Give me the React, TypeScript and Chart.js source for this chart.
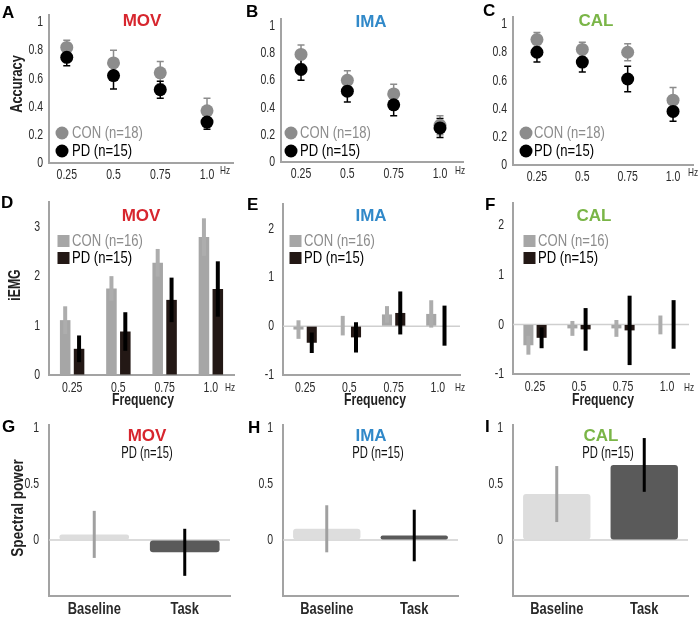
import React, { useEffect, useRef } from 'react';
import { Chart, registerables } from 'chart.js';

Chart.register(...registerables);

const SANS = "'Liberation Sans', Arial, 'DejaVu Sans', sans-serif";

// ---------- categories & ticks ----------
const freqValues = [0.25, 0.5, 0.75, 1.0];
const freqLabels = ['0.25', '0.5', '0.75', '1.0'];
const phaseLabels = ['Baseline', 'Task'];
const accuracyTicks = [0, 0.2, 0.4, 0.6, 0.8, 1];
const accuracyTickLabels = ['0', '0.2', '0.4', '0.6', '0.8', '1'];
const iemgTicksMov = [0, 1, 2, 3];
const iemgTickLabelsMov = ['0', '1', '2', '3'];
const iemgTicksOther = [-1, 0, 1, 2];
const iemgTickLabelsOther = ['-1', '0', '1', '2'];
const powerTicks = [0, 0.5, 1];
const powerTickLabels = ['0', '0.5', '1'];

// ---------- accuracy (A-C) ----------
const accMovCon = [0.82, 0.71, 0.64, 0.37];
const accMovConErr = [0.05, 0.09, 0.08, 0.09];
const accMovPd = [0.75, 0.62, 0.52, 0.29];
const accMovPdErr = [0.06, 0.095, 0.06, 0.05];
const accImaCon = [0.79, 0.6, 0.5, 0.27];
const accImaConErr = [0.07, 0.07, 0.07, 0.07];
const accImaPd = [0.68, 0.52, 0.42, 0.25];
const accImaPdErr = [0.08, 0.08, 0.08, 0.07];
const accCalCon = [0.89, 0.82, 0.8, 0.46];
const accCalConErr = [0.05, 0.05, 0.06, 0.09];
const accCalPd = [0.8, 0.73, 0.61, 0.38];
const accCalPdErr = [0.07, 0.07, 0.09, 0.07];

// ---------- iEMG (D-F) ----------
const emgMovCon = [1.11, 1.75, 2.27, 2.79];
const emgMovConErr = [0.28, 0.25, 0.28, 0.38];
const emgMovPd = [0.53, 0.88, 1.52, 1.74];
const emgMovPdErr = [0.27, 0.39, 0.45, 0.56];
const emgImaCon = [-0.07, 0.01, 0.24, 0.25];
const emgImaConErr = [0.19, 0.2, 0.17, 0.28];
const emgImaPd = [-0.34, -0.23, 0.27, 0.01];
const emgImaPdErr = [0.21, 0.31, 0.44, 0.41];
const emgCalCon = [-0.42, -0.08, -0.08, -0.01];
const emgCalConErr = [0.19, 0.15, 0.17, 0.19];
const emgCalPd = [-0.27, -0.1, -0.12, 0.0];
const emgCalPdErr = [0.21, 0.43, 0.7, 0.49];

// ---------- spectral power (G-I) ----------
const powMov = [0.05, -0.11];
const powMovErr = [0.21, 0.21];
const powIma = [0.1, 0.04];
const powImaErr = [0.21, 0.23];
const powCal = [0.41, 0.67];
const powCalErr = [0.25, 0.24];

// ---------- colours ----------
const RED = '#d7262e';
const BLUE = '#3189c9';
const GREEN = '#7ab547';
const CON_MARK = '#8c8c8c';
const PD_MARK = '#000000';
const CON_BAR = '#a6a6a6';
const CON_ERR = '#adadad';
const PD_BAR = '#231815';
const PD_ERR = '#000000';
const BASE_BAR = '#dddddd';
const BASE_ERR = '#a0a0a0';
const TASK_BAR = '#5a5a5a';
const TASK_ERR = '#000000';
const AXIS = '#a3a3a3';
const ZERO = '#cfcfcf';
const TICK = '#2a2a2a';

const YW = 40;
const XH = 20;

type Geo = { cx: number; cy: number; cw: number; ch: number; l: number; r: number; t: number; b: number };

function pad(g: Geo) {
  return { left: g.l - g.cx - YW, right: g.cx + g.cw - g.r, top: g.t - g.cy, bottom: g.cy + g.ch - g.b - XH };
}

function drawText(ctx: any, s: string, x: number, y: number, font: string, color: string, align: string, baseline: string, rot: number, sx: number) {
  ctx.save();
  ctx.translate(x, y);
  if (rot) ctx.rotate(rot);
  if (sx !== 1) ctx.scale(sx, 1);
  ctx.font = font;
  ctx.fillStyle = color;
  ctx.textAlign = align;
  ctx.textBaseline = baseline;
  ctx.fillText(s, 0, 0);
  ctx.restore();
}

function annotPlugin(items: any[], ox: number, oy: number) {
  return {
    id: 'annot',
    afterDraw(chart: any) {
      const ctx = chart.ctx;
      for (const it of items) {
        if (it.k === 't') {
          drawText(ctx, it.s, it.x - ox, it.y - oy, it.f, it.c, it.a || 'center', it.b || 'middle', it.rot || 0, it.sx || 1);
        } else if (it.k === 'c') {
          ctx.save();
          ctx.fillStyle = it.c;
          ctx.beginPath();
          ctx.arc(it.x - ox, it.y - oy, it.r, 0, Math.PI * 2);
          ctx.fill();
          ctx.restore();
        } else {
          ctx.save();
          ctx.fillStyle = it.c;
          ctx.fillRect(it.x - ox - it.w / 2, it.y - oy - it.h / 2, it.w, it.h);
          ctx.restore();
        }
      }
    },
  };
}

// tick labels drawn at the library's own tick positions (condensed lettering)
function tickPlugin(spec: any) {
  return {
    id: 'ticklabels',
    afterDraw(chart: any) {
      const ctx = chart.ctx;
      const xs = chart.scales.x;
      const ys = chart.scales.y;
      xs.ticks.forEach((_t: any, i: number) => {
        drawText(ctx, spec.xLabels[i], xs.getPixelForTick(i), chart.chartArea.bottom + spec.xOff, spec.xFont, TICK, 'center', 'middle', 0, spec.xSx);
      });
      ys.ticks.forEach((t: any, i: number) => {
        drawText(ctx, spec.yLabels[i], chart.chartArea.left - spec.yPad, ys.getPixelForValue(t.value), spec.yFont, TICK, 'right', 'middle', 0, spec.ySx);
      });
    },
  };
}

function errorPlugin(layer: string) {
  const draw = (chart: any) => {
    const ctx = chart.ctx;
    const ys = chart.scales.y;
    chart.data.datasets.forEach((ds: any, i: number) => {
      if (!ds.errors) return;
      const meta = chart.getDatasetMeta(i);
      meta.data.forEach((el: any, j: number) => {
        const raw = ds.data[j];
        const v = typeof raw === 'number' ? raw : raw.y;
        const e = ds.errors[j];
        const y1 = ys.getPixelForValue(v + e);
        const y2 = ys.getPixelForValue(v - e);
        ctx.save();
        ctx.strokeStyle = Array.isArray(ds.errorColor) ? ds.errorColor[j] : ds.errorColor;
        ctx.lineWidth = ds.errorWidth;
        ctx.beginPath();
        ctx.moveTo(el.x, y1);
        ctx.lineTo(el.x, y2);
        if (ds.errorCap) {
          ctx.moveTo(el.x - ds.errorCap, y1);
          ctx.lineTo(el.x + ds.errorCap, y1);
          ctx.moveTo(el.x - ds.errorCap, y2);
          ctx.lineTo(el.x + ds.errorCap, y2);
        }
        ctx.stroke();
        ctx.restore();
      });
    });
  };
  return {
    id: 'errbars',
    beforeDatasetsDraw(c: any) { if (layer === 'before') draw(c); },
    afterDatasetsDraw(c: any) { if (layer === 'after') draw(c); },
  };
}

const zeroLinePlugin = {
  id: 'zeroline',
  beforeDatasetsDraw(chart: any) {
    const ys = chart.scales.y;
    const { left, right } = chart.chartArea;
    const y = ys.getPixelForValue(0);
    const ctx = chart.ctx;
    ctx.save();
    ctx.strokeStyle = ZERO;
    ctx.lineWidth = 1.5;
    ctx.beginPath();
    ctx.moveTo(left, y);
    ctx.lineTo(right, y);
    ctx.stroke();
    ctx.restore();
  },
};

function yAxis(min: number, max: number, ticks: number[]) {
  return {
    type: 'linear',
    min,
    max,
    afterBuildTicks: (s: any) => { s.ticks = ticks.map((v) => ({ value: v })); },
    afterFit: (s: any) => { s.width = YW; },
    ticks: { display: false },
    grid: { drawOnChartArea: false, drawTicks: false },
    border: { color: AXIS, width: 2 },
  };
}

function catAxis() {
  return {
    type: 'category',
    afterFit: (s: any) => { s.height = XH; },
    ticks: { display: false },
    grid: { drawOnChartArea: false, drawTicks: false },
    border: { color: AXIS, width: 2 },
  };
}

const TICKF = `15px ${SANS}`;
const TICKSX = 0.7;

const T = (s: string, x: number, y: number, f: string, c: string, extra: any = {}) => ({ k: 't', s, x, y, f, c, ...extra });

function accuracyConfig(g: Geo, xmin: number, xmax: number, con: number[], conErr: number[], pd: number[], pdErr: number[], items: any[]) {
  return {
    type: 'scatter',
    data: {
      datasets: [
        {
          label: 'CON (n=18)',
          data: freqValues.map((x, i) => ({ x, y: con[i] })),
          errors: conErr, errorColor: CON_MARK, errorWidth: 1.5, errorCap: 3.5,
          pointRadius: 6.5, pointBackgroundColor: CON_MARK, pointBorderWidth: 0, order: 1,
        },
        {
          label: 'PD (n=15)',
          data: freqValues.map((x, i) => ({ x, y: pd[i] })),
          errors: pdErr, errorColor: PD_MARK, errorWidth: 1.5, errorCap: 3.5,
          pointRadius: 6.5, pointBackgroundColor: PD_MARK, pointBorderWidth: 0, order: 0,
        },
      ],
    },
    options: {
      animation: false,
      responsive: false,
      layout: { padding: pad(g) },
      plugins: { legend: { display: false }, tooltip: { enabled: false } },
      scales: {
        x: {
          type: 'linear', min: xmin, max: xmax,
          afterBuildTicks: (s: any) => { s.ticks = freqValues.map((v) => ({ value: v })); },
          afterFit: (s: any) => { s.height = XH; },
          ticks: { display: false },
          grid: { drawOnChartArea: false, drawTicks: false },
          border: { color: AXIS, width: 2 },
        },
        y: yAxis(0, 1.05, accuracyTicks),
      },
    },
    plugins: [
      errorPlugin('before'),
      tickPlugin({ xLabels: freqLabels, xOff: 12, xFont: TICKF, xSx: TICKSX, yLabels: accuracyTickLabels, yPad: 6, yFont: TICKF, ySx: TICKSX }),
      annotPlugin(items, g.cx, g.cy),
    ],
  };
}

function emgConfig(g: Geo, min: number, max: number, ticks: number[], labels: string[], con: number[], conErr: number[], pd: number[], pdErr: number[], items: any[], zero: boolean) {
  return {
    type: 'bar',
    data: {
      labels: freqLabels,
      datasets: [
        { label: 'CON (n=16)', data: con, backgroundColor: CON_BAR, errors: conErr, errorColor: CON_ERR, errorWidth: 4, categoryPercentage: 0.6, barPercentage: 0.76 },
        { label: 'PD (n=15)', data: pd, backgroundColor: PD_BAR, errors: pdErr, errorColor: PD_ERR, errorWidth: 4, categoryPercentage: 0.6, barPercentage: 0.76 },
      ],
    },
    options: {
      animation: false,
      responsive: false,
      layout: { padding: pad(g) },
      plugins: { legend: { display: false }, tooltip: { enabled: false } },
      scales: { x: catAxis(), y: yAxis(min, max, ticks) },
    },
    plugins: [
      ...(zero ? [zeroLinePlugin] : []),
      errorPlugin('after'),
      tickPlugin({ xLabels: freqLabels, xOff: 13, xFont: TICKF, xSx: TICKSX, yLabels: labels, yPad: 9, yFont: TICKF, ySx: TICKSX }),
      annotPlugin(items, g.cx, g.cy),
    ],
  };
}

function powerConfig(g: Geo, vals: number[], errs: number[], items: any[]) {
  return {
    type: 'bar',
    data: {
      labels: phaseLabels,
      datasets: [
        {
          label: 'PD (n=15)', data: vals,
          backgroundColor: [BASE_BAR, TASK_BAR], borderRadius: 3, borderSkipped: false,
          errors: errs, errorColor: [BASE_ERR, TASK_ERR], errorWidth: 3,
          categoryPercentage: 1, barPercentage: 0.77,
        },
      ],
    },
    options: {
      animation: false,
      responsive: false,
      layout: { padding: pad(g) },
      plugins: { legend: { display: false }, tooltip: { enabled: false } },
      scales: { x: catAxis(), y: yAxis(-0.5, 1.03, powerTicks) },
    },
    plugins: [
      zeroLinePlugin,
      errorPlugin('after'),
      tickPlugin({ xLabels: phaseLabels, xOff: 13, xFont: `bold 17px ${SANS}`, xSx: 0.76, yLabels: powerTickLabels, yPad: 10, yFont: TICKF, ySx: TICKSX }),
      annotPlugin(items, g.cx, g.cy),
    ],
  };
}

const LETTER = `bold 17px ${SANS}`;
const TITLE = `bold 17px ${SANS}`;
const LEG = `17px ${SANS}`;
const AXT = `bold 16px ${SANS}`;
const AXT17 = `bold 17px ${SANS}`;
const HZ = `11px ${SANS}`;
const SUB = `17px ${SANS}`;
const LX = { a: 'left', sx: 0.77 };
const LTR = { a: 'left', b: 'alphabetic' };

const geo: Record<string, Geo> = {
  A: { cx: 0, cy: 0, cw: 240, ch: 195, l: 49, r: 233, t: 15, b: 163 },
  B: { cx: 230, cy: 0, cw: 240, ch: 195, l: 281, r: 463, t: 19, b: 162 },
  C: { cx: 460, cy: 0, cw: 240, ch: 195, l: 513, r: 693, t: 17, b: 165 },
  D: { cx: 0, cy: 195, cw: 240, ch: 217, l: 49, r: 234, t: 202, b: 375 },
  E: { cx: 230, cy: 195, cw: 240, ch: 217, l: 283, r: 460, t: 204, b: 375 },
  F: { cx: 460, cy: 195, cw: 240, ch: 217, l: 513, r: 689, t: 203, b: 374 },
  G: { cx: 0, cy: 412, cw: 240, ch: 207, l: 49, r: 230, t: 424.6, b: 596 },
  H: { cx: 230, cy: 412, cw: 240, ch: 207, l: 283, r: 458, t: 424.6, b: 596 },
  I: { cx: 460, cy: 412, cw: 240, ch: 207, l: 513, r: 688, t: 424.6, b: 596 },
};

function accLegend(cx: number, tx: number) {
  return [
    { k: 'c', x: cx, y: 133, r: 6.5, c: CON_MARK },
    T('CON (n=18)', tx, 133, LEG, CON_MARK, LX),
    { k: 'c', x: cx, y: 151, r: 6.5, c: PD_MARK },
    T('PD (n=15)', tx, 151, LEG, PD_MARK, LX),
  ];
}
function emgLegend(sx: number, tx: number) {
  return [
    { k: 'r', x: sx, y: 241, w: 12, h: 12, c: CON_BAR },
    T('CON (n=16)', tx, 241, LEG, CON_MARK, LX),
    { k: 'r', x: sx, y: 258, w: 12, h: 12, c: PD_BAR },
    T('PD (n=15)', tx, 258, LEG, PD_MARK, LX),
  ];
}

const panels: { g: Geo; build: () => any }[] = [
  {
    g: geo.A,
    build: () => accuracyConfig(geo.A, 0.155, 1.139, accMovCon, accMovConErr, accMovPd, accMovPdErr, [
      T('A', 2, 18, LETTER, '#000', LTR),
      T('MOV', 142, 21, TITLE, RED),
      T('Accuracy', 18, 84, AXT, '#222', { rot: -Math.PI / 2, sx: 0.8 }),
      T('Hz', 225, 171, HZ, TICK, { sx: 0.75 }),
      ...accLegend(62, 72),
    ]),
  },
  {
    g: geo.B,
    build: () => accuracyConfig(geo.B, 0.142, 1.124, accImaCon, accImaConErr, accImaPd, accImaPdErr, [
      T('B', 246, 17, LETTER, '#000', LTR),
      T('IMA', 371, 22, TITLE, BLUE),
      T('Hz', 460, 171, HZ, TICK, { sx: 0.75 }),
      ...accLegend(291, 300),
    ]),
  },
  {
    g: geo.C,
    build: () => accuracyConfig(geo.C, 0.118, 1.11, accCalCon, accCalConErr, accCalPd, accCalPdErr, [
      T('C', 483, 16, LETTER, '#000', LTR),
      T('CAL', 596, 21, TITLE, GREEN),
      T('Hz', 693, 173, HZ, TICK, { sx: 0.75 }),
      ...accLegend(526, 534),
    ]),
  },
  {
    g: geo.D,
    build: () => emgConfig(geo.D, 0, 3.5, iemgTicksMov, iemgTickLabelsMov, emgMovCon, emgMovConErr, emgMovPd, emgMovPdErr, [
      T('D', 1, 208, LETTER, '#000', LTR),
      T('MOV', 141, 216, TITLE, RED),
      T('iEMG', 15, 285, AXT17, '#222', { rot: -Math.PI / 2, sx: 0.72 }),
      T('Frequency', 143, 400, AXT17, '#222', { sx: 0.72 }),
      T('Hz', 230, 388, HZ, TICK, { sx: 0.75 }),
      ...emgLegend(63.5, 72),
    ], false),
  },
  {
    g: geo.E,
    build: () => emgConfig(geo.E, -1, 2.5, iemgTicksOther, iemgTickLabelsOther, emgImaCon, emgImaConErr, emgImaPd, emgImaPdErr, [
      T('E', 247, 210, LETTER, '#000', LTR),
      T('IMA', 371, 216, TITLE, BLUE),
      T('Frequency', 375, 400, AXT17, '#222', { sx: 0.72 }),
      T('Hz', 460, 388, HZ, TICK, { sx: 0.75 }),
      ...emgLegend(295.5, 304),
    ], true),
  },
  {
    g: geo.F,
    build: () => emgConfig(geo.F, -1, 2.45, iemgTicksOther, iemgTickLabelsOther, emgCalCon, emgCalConErr, emgCalPd, emgCalPdErr, [
      T('F', 485, 210, LETTER, '#000', LTR),
      T('CAL', 594, 216, TITLE, GREEN),
      T('Frequency', 603, 400, AXT17, '#222', { sx: 0.72 }),
      T('Hz', 689, 388, HZ, TICK, { sx: 0.75 }),
      ...emgLegend(529.5, 538),
    ], true),
  },
  {
    g: geo.G,
    build: () => powerConfig(geo.G, powMov, powMovErr, [
      T('G', 2, 432, LETTER, '#000', LTR),
      T('MOV', 147, 436, TITLE, RED),
      T('PD (n=15)', 147, 453, SUB, '#111', { sx: 0.66 }),
      T('Spectral power', 18, 508, AXT17, '#222', { rot: -Math.PI / 2, sx: 0.8 }),
    ]),
  },
  {
    g: geo.H,
    build: () => powerConfig(geo.H, powIma, powImaErr, [
      T('H', 248, 433, LETTER, '#000', LTR),
      T('IMA', 371, 436, TITLE, BLUE),
      T('PD (n=15)', 378, 453, SUB, '#111', { sx: 0.66 }),
    ]),
  },
  {
    g: geo.I,
    build: () => powerConfig(geo.I, powCal, powCalErr, [
      T('I', 485, 432, LETTER, '#000', LTR),
      T('CAL', 601, 436, TITLE, GREEN),
      T('PD (n=15)', 608, 453, SUB, '#111', { sx: 0.66 }),
    ]),
  },
];

function Panel({ g, build }: { g: Geo; build: () => any }) {
  const ref = useRef<HTMLCanvasElement | null>(null);
  useEffect(() => {
    const chart = new Chart(ref.current as HTMLCanvasElement, build());
    return () => chart.destroy();
  }, []);
  return (
    <canvas
      ref={ref}
      width={g.cw}
      height={g.ch}
      style={{ position: 'absolute', left: g.cx, top: g.cy, width: g.cw, height: g.ch }}
    />
  );
}

export default function App() {
  return (
    <div style={{ position: 'absolute', left: 0, top: 0, width: 700, height: 619, background: '#fff', overflow: 'hidden' }}>
      {panels.map((p, i) => (
        <Panel key={i} g={p.g} build={p.build} />
      ))}
    </div>
  );
}
